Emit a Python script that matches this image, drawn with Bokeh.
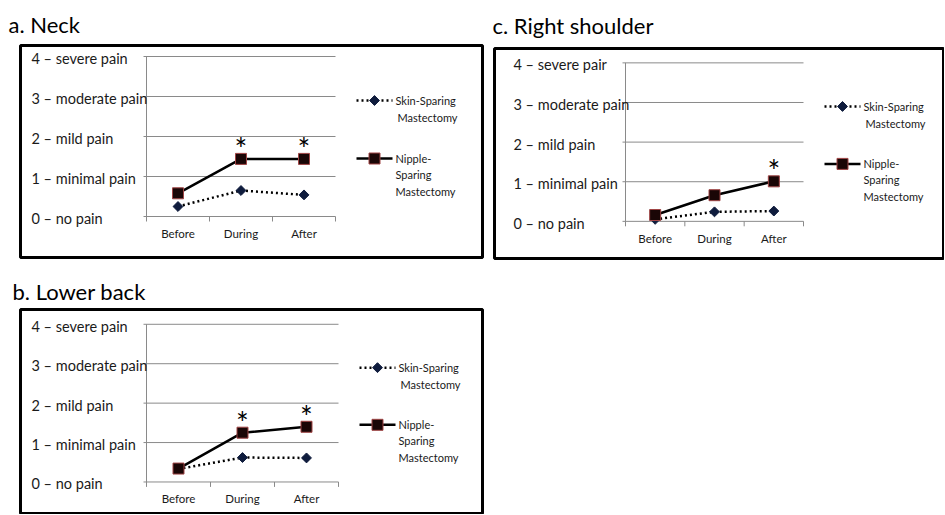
import math
from bokeh.plotting import figure
from bokeh.layouts import row, column
from bokeh.models import Range1d
from bokeh.core.properties import value
from bokeh.embed import file_html
from bokeh.resources import INLINE

# ---------------- data ----------------
categories = ["Before", "During", "After"]
y_ticks = [0, 1, 2, 3, 4]
y_tick_labels = ["0 \u2013 no pain", "1 \u2013 minimal pain", "2 \u2013 mild pain",
                 "3 \u2013 moderate pain", "4 \u2013 severe pain"]
y_tick_labels_c = ["0 \u2013 no pain", "1 \u2013 minimal pain", "2 \u2013 mild pain",
                   "3 \u2013 moderate pain", "4 \u2013 severe pair"]
ssm_legend = ["Skin-Sparing", "Mastectomy"]
nsm_legend = ["Nipple-", "Sparing", "Mastectomy"]

neck_ssm = [0.25, 0.65, 0.54]
neck_nsm = [0.58, 1.44, 1.44]
neck_sig = [False, True, True]

back_ssm = [0.33, 0.62, 0.61]
back_nsm = [0.34, 1.25, 1.40]
back_sig = [False, True, True]

shoulder_ssm = [0.05, 0.24, 0.26]
shoulder_nsm = [0.16, 0.66, 1.01]
shoulder_sig = [False, False, True]

FONT = "Lato"
TXT = "#1a1a1a"
GRID = "#8a8a8a"
SSM_COLOR = "#0f1c3d"
NSM_FILL = "#1a0606"
NSM_EDGE = "#a04545"
DOT = "2 3"


def panel(title, ssm, nsm, sig, ylabels, W, H, fl, fr, ft, fb,
          ax_left, ax_right, y0, label_x, title_off, title_standoff, unit=40.0):
    cw = (ax_right - ax_left) / 3.0

    def X(px):
        return (px - ax_left) / cw

    def Y(py):
        return (y0 - py) / unit

    p = figure(width=W, height=H,
               x_range=Range1d(X(fl), X(fr)), y_range=Range1d(Y(fb), Y(ft)),
               x_axis_location=None, y_axis_location=None,
               toolbar_location=None, output_backend="svg",
               min_border_left=fl, min_border_right=W - fr,
               min_border_top=ft, min_border_bottom=H - fb,
               outline_line_color="black", outline_line_width=3,
               background_fill_color="white", border_fill_color="white")
    p.xgrid.visible = False
    p.ygrid.visible = False
    p.title.text = title
    p.title.text_font = FONT
    p.title.text_font_size = "22px"
    p.title.text_font_style = "normal"
    p.title.text_color = "black"
    p.title.align = "left"
    p.title.offset = title_off
    p.title.standoff = title_standoff

    n = len(categories)
    xs = [i + 0.5 for i in range(n)]
    tick_len_x = X(ax_left - 3)

    # gridlines with small left ticks
    p.segment(x0=[tick_len_x] * 4, x1=[n] * 4, y0=y_ticks[1:], y1=y_ticks[1:],
              line_color=GRID, line_width=1)
    # axes
    p.segment(x0=[tick_len_x], x1=[n], y0=[0], y1=[0], line_color=GRID, line_width=1)
    p.segment(x0=[0], x1=[0], y0=[0], y1=[y_ticks[-1]], line_color=GRID, line_width=1)
    p.segment(x0=list(range(n + 1)), x1=list(range(n + 1)), y0=[0] * (n + 1),
              y1=[Y(y0 + 5)] * (n + 1), line_color=GRID, line_width=1)

    # tick labels
    p.text(x=[X(label_x)] * len(y_ticks), y=y_ticks, text=ylabels,
           text_font=value(FONT), text_font_size="14.5px", text_color=TXT,
           text_align="left", text_baseline="middle", y_offset=2)
    p.text(x=xs, y=[0] * n, text=categories, text_font=value(FONT),
           text_font_size="11.5px", text_color=TXT, text_align="center",
           text_baseline="middle", y_offset=17)

    # series
    p.line(xs, ssm, line_color="black", line_width=2.5, line_dash=DOT)
    p.scatter(xs, ssm, marker="square", size=7, angle=math.pi / 4,
              fill_color=SSM_COLOR, line_color=SSM_COLOR)
    p.line(xs, nsm, line_color="black", line_width=2.5)
    p.scatter(xs, nsm, marker="square", size=11, fill_color=NSM_FILL,
              line_color=NSM_EDGE, line_width=1)

    # significance asterisks
    sx = [x for x, s in zip(xs, sig) if s]
    sy = [v for v, s in zip(nsm, sig) if s]
    p.text(x=sx, y=sy, text=["*"] * len(sx), text_font=value(FONT),
           text_font_size="30px", text_color="black", text_align="center",
           text_baseline="alphabetic", y_offset=-11)

    # legend (drawn manually)
    lx0 = ax_right + 21
    lx1 = lx0 + 36
    tx = lx0 + 39
    ys = Y(y0 - 116)
    yn = Y(y0 - 58)
    p.line([X(lx0), X(lx1)], [ys, ys], line_color="black", line_width=2.5, line_dash=DOT)
    p.scatter([X((lx0 + lx1) / 2)], [ys], marker="square", size=7, angle=math.pi / 4,
              fill_color=SSM_COLOR, line_color=SSM_COLOR)
    p.line([X(lx0), X(lx1)], [yn, yn], line_color="black", line_width=2.5)
    p.scatter([X((lx0 + lx1) / 2)], [yn], marker="square", size=11,
              fill_color=NSM_FILL, line_color=NSM_EDGE, line_width=1)
    p.text(x=[X(tx), X(tx + 2)], y=[ys, Y(y0 - 99)], text=ssm_legend,
           text_font=value(FONT), text_font_size="11px", text_color=TXT,
           text_align="left", text_baseline="middle")
    p.text(x=[X(tx)] * 3, y=[yn, Y(y0 - 42), Y(y0 - 25)], text=nsm_legend,
           text_font=value(FONT), text_font_size="11px", text_color=TXT,
           text_align="left", text_baseline="middle")
    return p


pa = panel("a. Neck", neck_ssm, neck_nsm, neck_sig, y_tick_labels,
           W=484, H=270, fl=20, fr=482, ft=45, fb=257,
           ax_left=146, ax_right=335, y0=216, label_x=31, title_off=-12,
           title_standoff=16)
pb = panel("b. Lower back", back_ssm, back_nsm, back_sig, y_tick_labels,
           W=484, H=244, fl=20, fr=482, ft=36, fb=244,
           ax_left=146, ax_right=338, y0=211, label_x=31, title_off=-8,
           title_standoff=10)
pc = panel("c. Right shoulder", shoulder_ssm, shoulder_nsm, shoulder_sig, y_tick_labels_c,
           W=460, H=270, fl=10, fr=460, ft=46, fb=258,
           ax_left=141, ax_right=319, y0=220.5, label_x=29, title_off=-2,
           title_standoff=19)

layout = row(column(pa, pb), pc)
open("out.html", "w").write(file_html(layout, INLINE))
